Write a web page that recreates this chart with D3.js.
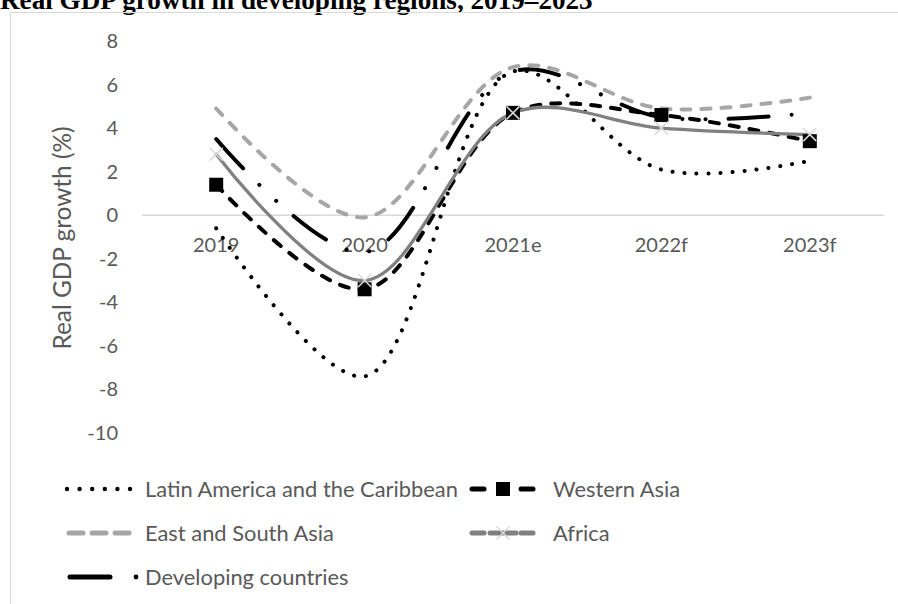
<!DOCTYPE html>
<html>
<head>
<meta charset="utf-8">
<script src="https://cdn.jsdelivr.net/npm/d3@7"></script>
<style>
body { margin: 0; background: #fff; }
svg { display: block; }
</style>
</head>
<body>
<div id="chart"></div>
<script>
var years = ["2019", "2020", "2021e", "2022f", "2023f"];
var yTicks = [8, 6, 4, 2, 0, -2, -4, -6, -8, -10];

var latinAmerica = [-0.6, -7.4, 6.6, 2.1, 2.5];
var westernAsia = [1.4, -3.4, 4.7, 4.6, 3.4];
var eastSouthAsia = [4.9, -0.1, 6.8, 4.9, 5.4];
var africa = [2.8, -3.0, 4.7, 4.0, 3.7];
var developing = [3.5, -1.7, 6.6, 4.5, 4.7];

var series = [
	{ name: "Latin America and the Caribbean", values: latinAmerica, color: "#000", width: 4, dash: "0.1 11.9", marker: null },
	{ name: "Western Asia", values: westernAsia, color: "#000", width: 4, dash: "9 11", marker: "square" },
	{ name: "East and South Asia", values: eastSouthAsia, color: "#a6a6a6", width: 4, dash: "9 11", marker: null },
	{ name: "Africa", values: africa, color: "#808080", width: 3.3, dash: null, marker: "x" },
	{ name: "Developing countries", values: developing, color: "#000", width: 4, dash: "40 23 0.1 23 0.1 23", marker: null }
];

var W = 898, H = 604;
var FONT = "Lato, 'Open Sans', sans-serif";
var TEXT_COLOR = "#595959";

var svg = d3.select("#chart").append("svg")
	.attr("width", W)
	.attr("height", H);

// scale a text's font so that it is about `target` px long
function fitText(t, target) {
	var fs = +t.attr("font-size");
	var len = t.node().getComputedTextLength();
	if (len > 0) t.attr("font-size", (fs * target / len).toFixed(2));
	return +t.attr("font-size");
}

// title, its top is cut by the page edge
var title = svg.append("text")
	.attr("x", 0)
	.attr("y", 9)
	.attr("font-family", "'Liberation Serif', 'Times New Roman', serif")
	.attr("font-weight", "bold")
	.attr("font-size", 26)
	.text("Real GDP growth in developing regions, 2019\u20132023");
fitText(title, 593);

// chart frame
svg.append("path")
	.attr("d", "M10.5," + H + "V12.5H" + W)
	.attr("fill", "none")
	.attr("stroke", "#d9d9d9")
	.attr("stroke-width", 1);

var x = d3.scaleBand().domain(years).range([142, 884]);
var y = d3.scaleLinear().domain([-10, 8]).range([433, 41]);

// zero line
svg.append("line")
	.attr("x1", 142).attr("x2", 884)
	.attr("y1", y(0)).attr("y2", y(0))
	.attr("stroke", "#d9d9d9")
	.attr("stroke-width", 1.5);

svg.append("g").selectAll("text")
	.data(yTicks)
	.enter().append("text")
	.attr("x", 118)
	.attr("y", function (d) { return y(d); })
	.attr("dy", "0.35em")
	.attr("text-anchor", "end")
	.attr("font-family", FONT)
	.attr("font-size", 20)
	.attr("fill", TEXT_COLOR)
	.text(function (d) { return d; });

svg.append("g").selectAll("text")
	.data(years)
	.enter().append("text")
	.attr("x", function (d) { return x(d) + x.bandwidth() / 2; })
	.attr("y", y(0) + 37)
	.attr("text-anchor", "middle")
	.attr("font-family", FONT)
	.attr("font-size", 20)
	.attr("fill", TEXT_COLOR)
	.text(function (d) { return d; });

var yTitle = svg.append("text")
	.attr("transform", "translate(62,238) rotate(-90)")
	.attr("text-anchor", "middle")
	.attr("dy", "0.35em")
	.attr("font-family", FONT)
	.attr("font-size", 24)
	.attr("fill", TEXT_COLOR)
	.text("Real GDP growth (%)");
fitText(yTitle, 223);

var line = d3.line()
	.x(function (d, i) { return x(years[i]) + x.bandwidth() / 2; })
	.y(function (d) { return y(d); })
	.curve(d3.curveCatmullRom.alpha(0.5));

var drawOrder = [4, 2, 0, 1, 3];
drawOrder.forEach(function (k) {
	var s = series[k];
	svg.append("path")
		.attr("d", line(s.values))
		.attr("fill", "none")
		.attr("stroke", s.color)
		.attr("stroke-width", s.width)
		.attr("stroke-linecap", "round")
		.attr("stroke-dasharray", s.dash);
});

function drawMarker(g, type, cx, cy) {
	if (type === "square") {
		g.append("rect")
			.attr("x", cx - 7).attr("y", cy - 7)
			.attr("width", 14).attr("height", 14)
			.attr("fill", "#000");
	} else if (type === "x") {
		g.append("path")
			.attr("d", "M" + (cx - 6.5) + "," + (cy - 6.5) + "L" + (cx + 6.5) + "," + (cy + 6.5) +
				"M" + (cx - 6.5) + "," + (cy + 6.5) + "L" + (cx + 6.5) + "," + (cy - 6.5))
			.attr("stroke", "#d9d9d9")
			.attr("stroke-width", 1.5);
	}
}

[1, 3].forEach(function (k) {
	var s = series[k];
	var g = svg.append("g");
	s.values.forEach(function (v, i) {
		drawMarker(g, s.marker, x(years[i]) + x.bandwidth() / 2, y(v));
	});
});

// legend
var legendPos = [
	{ lx: 67, ly: 489 },
	{ lx: 470, ly: 489 },
	{ lx: 67, ly: 533 },
	{ lx: 470, ly: 533 },
	{ lx: 67, ly: 577 }
];

function seg(g, x1, x2, yy, color, w) {
	g.append("line")
		.attr("x1", x1).attr("x2", x2)
		.attr("y1", yy).attr("y2", yy)
		.attr("stroke", color).attr("stroke-width", w)
		.attr("stroke-linecap", "round");
}

var legendSize = 22;
series.forEach(function (s, k) {
	var p = legendPos[k];
	var g = svg.append("g");
	var tx = p.lx + 78;
	if (k === 0) {
		for (var i = 0; i < 6; i++) {
			g.append("circle")
				.attr("cx", p.lx + i * 12.6).attr("cy", p.ly)
				.attr("r", 2.2).attr("fill", s.color);
		}
	} else if (k === 2) {
		seg(g, p.lx + 2, p.lx + 16, p.ly, s.color, 5);
		seg(g, p.lx + 25, p.lx + 39, p.ly, s.color, 5);
		seg(g, p.lx + 48, p.lx + 62, p.ly, s.color, 5);
	} else if (k === 4) {
		seg(g, p.lx + 3, p.lx + 43, p.ly, s.color, 5);
		g.append("circle")
			.attr("cx", p.lx + 69).attr("cy", p.ly)
			.attr("r", 2.4).attr("fill", s.color);
	} else {
		seg(g, p.lx + 2, p.lx + 14, p.ly, s.color, 5);
		seg(g, p.lx + 51, p.lx + 63, p.ly, s.color, 5);
		if (k === 3) seg(g, p.lx + 20, p.lx + 46, p.ly, s.color, 5);
		drawMarker(g, s.marker, p.lx + 33, p.ly);
		tx = p.lx + 83;
	}
	var t = g.append("text")
		.attr("x", tx)
		.attr("y", p.ly)
		.attr("dy", "0.35em")
		.attr("font-family", FONT)
		.attr("font-size", legendSize)
		.attr("fill", TEXT_COLOR)
		.text(s.name);
	if (k === 0) legendSize = fitText(t, 313);
});
</script>
</body>
</html>
